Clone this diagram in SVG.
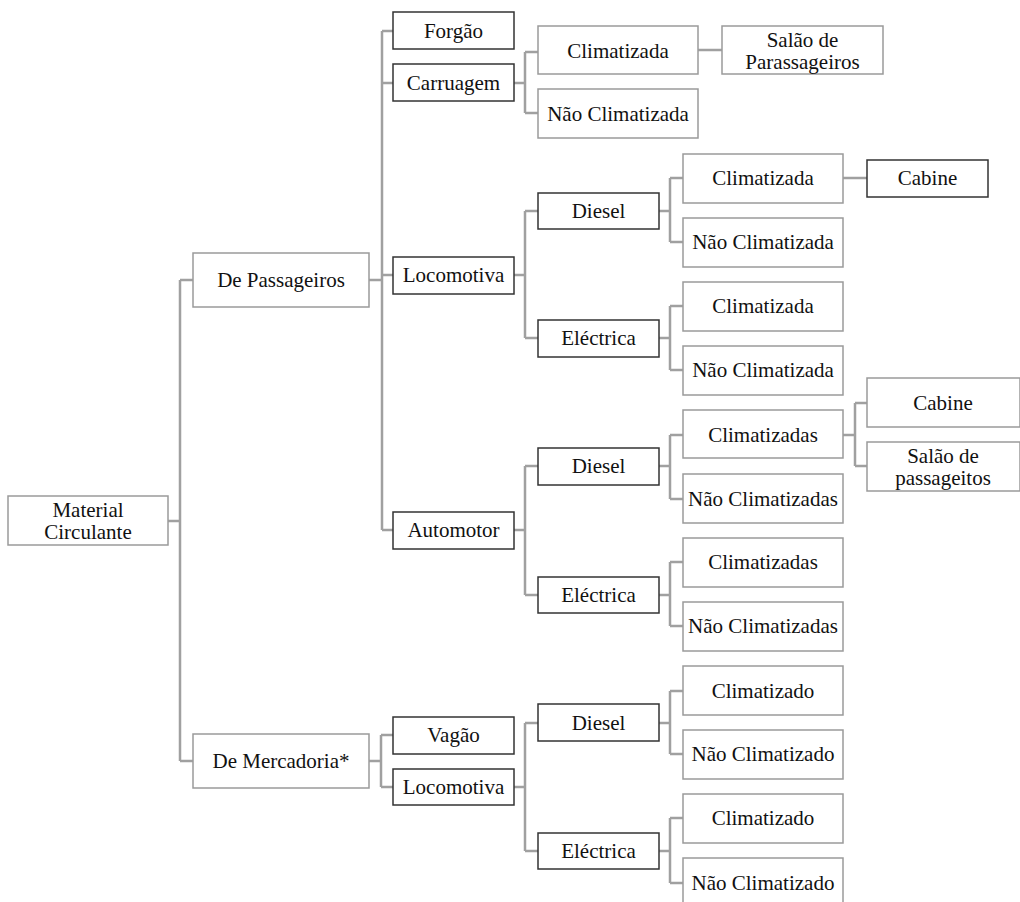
<svg xmlns="http://www.w3.org/2000/svg" width="1020" height="902" viewBox="0 0 1020 902" font-family="'Liberation Serif', 'Times New Roman', Tinos, 'DejaVu Serif', serif">
<style>
rect.g{fill:#fff;stroke:#9a9a9a;stroke-width:1.5}
rect.d{fill:#fff;stroke:#333;stroke-width:1.5}
text{font-family:'Liberation Serif', 'Times New Roman', Tinos, 'DejaVu Serif', serif;font-size:21px;fill:#111;text-anchor:middle}
#connectors path{fill:none;stroke:#a0a0a0;stroke-width:2.5}
</style>
<rect width="1020" height="902" fill="#fff"/>
<g id="connectors">
<path d="M168 521H180M180 280V761M180 280H193M180 761H193"/>
<path d="M369 280H382M382 31V530M382 31H393M382 83H393M382 275H393M382 530H393"/>
<path d="M514 83H525M525 52V113M525 52H538M525 113H538M698 50H722"/>
<path d="M514 275H525M525 211V338M525 211H538M525 338H538"/>
<path d="M659 211H670M670 178V242M670 178H683M670 242H683M843 178H867"/>
<path d="M659 338H670M670 306V370M670 306H683M670 370H683"/>
<path d="M514 530H525M525 466V595M525 466H538M525 595H538"/>
<path d="M659 466H670M670 435V499M670 435H683M670 499H683"/>
<path d="M843 435H855M855 403V466M855 403H867M855 466H867"/>
<path d="M659 595H670M670 562V626M670 562H683M670 626H683"/>
<path d="M369 761H381M381 735V787M381 735H393M381 787H393"/>
<path d="M514 787H525M525 723V851M525 723H538M525 851H538"/>
<path d="M659 723H670M670 691V754M670 691H683M670 754H683"/>
<path d="M659 851H670M670 818V883M670 818H683M670 883H683"/>
</g>
<g id="n-material"><rect class="g" x="8" y="496" width="160" height="49"/><text x="88" y="517">Material</text><text x="88" y="539">Circulante</text></g>
<g id="n-depass"><rect class="g" x="193" y="253" width="176" height="54"/><text x="281" y="287">De Passageiros</text></g>
<g id="n-demerc"><rect class="g" x="193" y="734" width="176" height="54"/><text x="281" y="768">De Mercadoria*</text></g>
<g id="n-forgao"><rect class="d" x="393" y="12" width="121" height="37"/><text x="453.5" y="38">Forgão</text></g>
<g id="n-carruagem"><rect class="d" x="393" y="64" width="121" height="37"/><text x="453.5" y="90">Carruagem</text></g>
<g id="n-car-clim"><rect class="g" x="538" y="26" width="160" height="48"/><text x="618" y="58">Climatizada</text></g>
<g id="n-car-naoclim"><rect class="g" x="538" y="89" width="160" height="49"/><text x="618" y="121">Não Climatizada</text></g>
<g id="n-salao1"><rect class="g" x="722" y="26" width="161" height="48"/><text x="802.5" y="47">Salão de</text><text x="802.5" y="69">Parassageiros</text></g>
<g id="n-loco1"><rect class="d" x="393" y="257" width="121" height="37"/><text x="453.5" y="282">Locomotiva</text></g>
<g id="n-loco1-diesel"><rect class="d" x="538" y="193" width="121" height="36"/><text x="598.5" y="218">Diesel</text></g>
<g id="n-loco1-d-clim"><rect class="g" x="683" y="154" width="160" height="49"/><text x="763" y="185">Climatizada</text></g>
<g id="n-cabine1"><rect class="d" x="867" y="160" width="121" height="37"/><text x="927.5" y="185">Cabine</text></g>
<g id="n-loco1-d-naoclim"><rect class="g" x="683" y="218" width="160" height="49"/><text x="763" y="249">Não Climatizada</text></g>
<g id="n-loco1-elec"><rect class="d" x="538" y="320" width="121" height="37"/><text x="598.5" y="345">Eléctrica</text></g>
<g id="n-loco1-e-clim"><rect class="g" x="683" y="282" width="160" height="49"/><text x="763" y="313">Climatizada</text></g>
<g id="n-loco1-e-naoclim"><rect class="g" x="683" y="346" width="160" height="49"/><text x="763" y="377">Não Climatizada</text></g>
<g id="n-automotor"><rect class="d" x="393" y="512" width="121" height="37"/><text x="453.5" y="537">Automotor</text></g>
<g id="n-auto-diesel"><rect class="d" x="538" y="448" width="121" height="37"/><text x="598.5" y="473">Diesel</text></g>
<g id="n-auto-d-clim"><rect class="g" x="683" y="410" width="160" height="48"/><text x="763" y="442">Climatizadas</text></g>
<g id="n-cabine2"><rect class="g" x="867" y="378" width="153" height="49"/><text x="943" y="410">Cabine</text></g>
<g id="n-salao2"><rect class="g" x="867" y="442" width="153" height="49"/><text x="943" y="463">Salão de</text><text x="943" y="485">passageitos</text></g>
<g id="n-auto-d-naoclim"><rect class="g" x="683" y="474" width="160" height="49"/><text x="763" y="506">Não Climatizadas</text></g>
<g id="n-auto-elec"><rect class="d" x="538" y="577" width="121" height="36"/><text x="598.5" y="602">Eléctrica</text></g>
<g id="n-auto-e-clim"><rect class="g" x="683" y="538" width="160" height="49"/><text x="763" y="569">Climatizadas</text></g>
<g id="n-auto-e-naoclim"><rect class="g" x="683" y="602" width="160" height="49"/><text x="763" y="633">Não Climatizadas</text></g>
<g id="n-vagao"><rect class="d" x="393" y="717" width="121" height="37"/><text x="453.5" y="742">Vagão</text></g>
<g id="n-loco2"><rect class="d" x="393" y="769" width="121" height="36"/><text x="453.5" y="794">Locomotiva</text></g>
<g id="n-loco2-diesel"><rect class="d" x="538" y="704" width="121" height="37"/><text x="598.5" y="730">Diesel</text></g>
<g id="n-loco2-d-clim"><rect class="g" x="683" y="666" width="160" height="49"/><text x="763" y="698">Climatizado</text></g>
<g id="n-loco2-d-naoclim"><rect class="g" x="683" y="730" width="160" height="49"/><text x="763" y="761">Não Climatizado</text></g>
<g id="n-loco2-elec"><rect class="d" x="538" y="833" width="121" height="36"/><text x="598.5" y="858">Eléctrica</text></g>
<g id="n-loco2-e-clim"><rect class="g" x="683" y="794" width="160" height="49"/><text x="763" y="825">Climatizado</text></g>
<g id="n-loco2-e-naoclim"><rect class="g" x="683" y="858" width="160" height="49"/><text x="763" y="890">Não Climatizado</text></g>
</svg>
